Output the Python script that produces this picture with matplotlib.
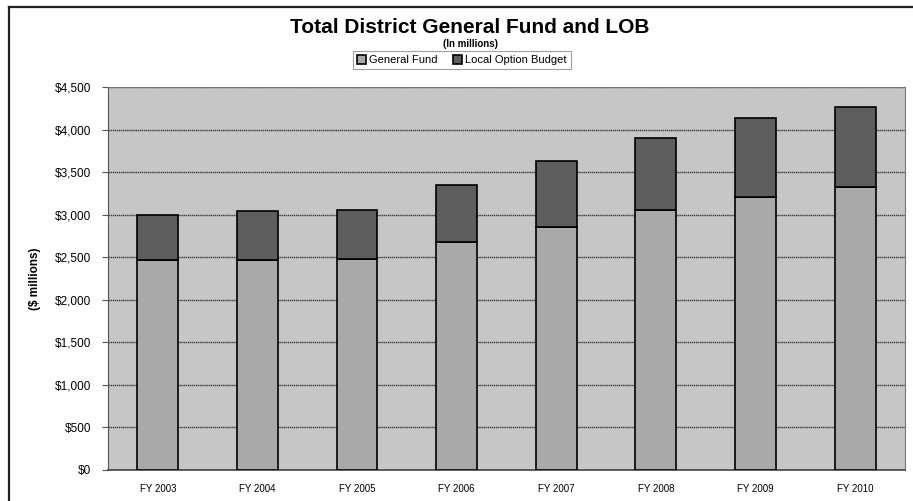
import matplotlib
matplotlib.use("Agg")
import matplotlib.pyplot as plt
from matplotlib.lines import Line2D
import numpy as np

plt.rcParams['font.family'] = ['Liberation Sans', 'DejaVu Sans']

# Fiscal years and fund amounts ($ millions)
years = ["FY 2003", "FY 2004", "FY 2005", "FY 2006",
         "FY 2007", "FY 2008", "FY 2009", "FY 2010"]
general_fund = [2470, 2470, 2475, 2680, 2860, 3050, 3210, 3320]
local_option = [530, 570, 575, 670, 765, 845, 920, 950]
y_ticks = [0, 500, 1000, 1500, 2000, 2500, 3000, 3500, 4000, 4500]

gf_color = "#a9a9a9"
lob_color = "#5e5e5e"
bg_color = "#c6c6c6"

fig = plt.figure(figsize=(9.13, 5.01), dpi=100)
ax = fig.add_axes([0.1183, 0.0619, 0.8729, 0.7645])
ax.set_facecolor(bg_color)

x = np.arange(len(years))
ax.bar(x, general_fund, width=0.41, color=gf_color, edgecolor="black",
       linewidth=1.2, label="General Fund", zorder=3)
ax.bar(x, local_option, width=0.41, bottom=general_fund, color=lob_color,
       edgecolor="black", linewidth=1.2, label="Local Option Budget", zorder=3)

ax.set_xlim(-0.5, len(years) - 0.5)
ax.set_ylim(0, 4500)
ax.set_yticks(y_ticks)
ax.set_yticklabels([f"${v:,}" for v in y_ticks], fontsize=8.5)
ax.set_xticks(x)
ax.set_xticklabels(years, fontsize=7)
ax.tick_params(axis="x", length=0, pad=10)
ax.tick_params(axis="y", length=4, width=0.8, color="#555555", pad=8)
ax.yaxis.grid(True, color="#3c3c3c", linewidth=1.0, linestyle=(0, (1, 0.5)), zorder=1)

for side in ("top", "right"):
    ax.spines[side].set_color("#777777")
    ax.spines[side].set_linestyle((0, (1, 1)))
ax.spines["left"].set_color("#555555")
ax.spines["bottom"].set_color("#444444")
ax.spines["bottom"].set_linewidth(1.2)

ax.set_ylabel("($ millions)", fontsize=8.5, fontweight="bold", labelpad=10)

fig.text(0.515, 0.946, "Total District General Fund and LOB",
         ha="center", va="center", fontsize=15, fontweight="bold")
fig.text(0.515, 0.912, "(In millions)", ha="center", va="center",
         fontsize=7, fontweight="bold")

leg = fig.legend(loc="center", bbox_to_anchor=(0.506, 0.880), ncol=2,
                 fontsize=8, frameon=True, fancybox=False, handlelength=0.8,
                 handleheight=0.8, handletextpad=0.3, columnspacing=1.4,
                 borderpad=0.35)
leg.get_frame().set_edgecolor("#888888")
leg.get_frame().set_linewidth(0.8)

# outer frame lines along top and left edges
fig.add_artist(Line2D([9 / 913, 1], [1 - 7 / 501, 1 - 7 / 501],
                      transform=fig.transFigure, color="#222222", linewidth=1.6))
fig.add_artist(Line2D([9 / 913, 9 / 913], [0, 1 - 7 / 501],
                      transform=fig.transFigure, color="#222222", linewidth=1.6))

fig.savefig("out.png", dpi=100, facecolor="white")
